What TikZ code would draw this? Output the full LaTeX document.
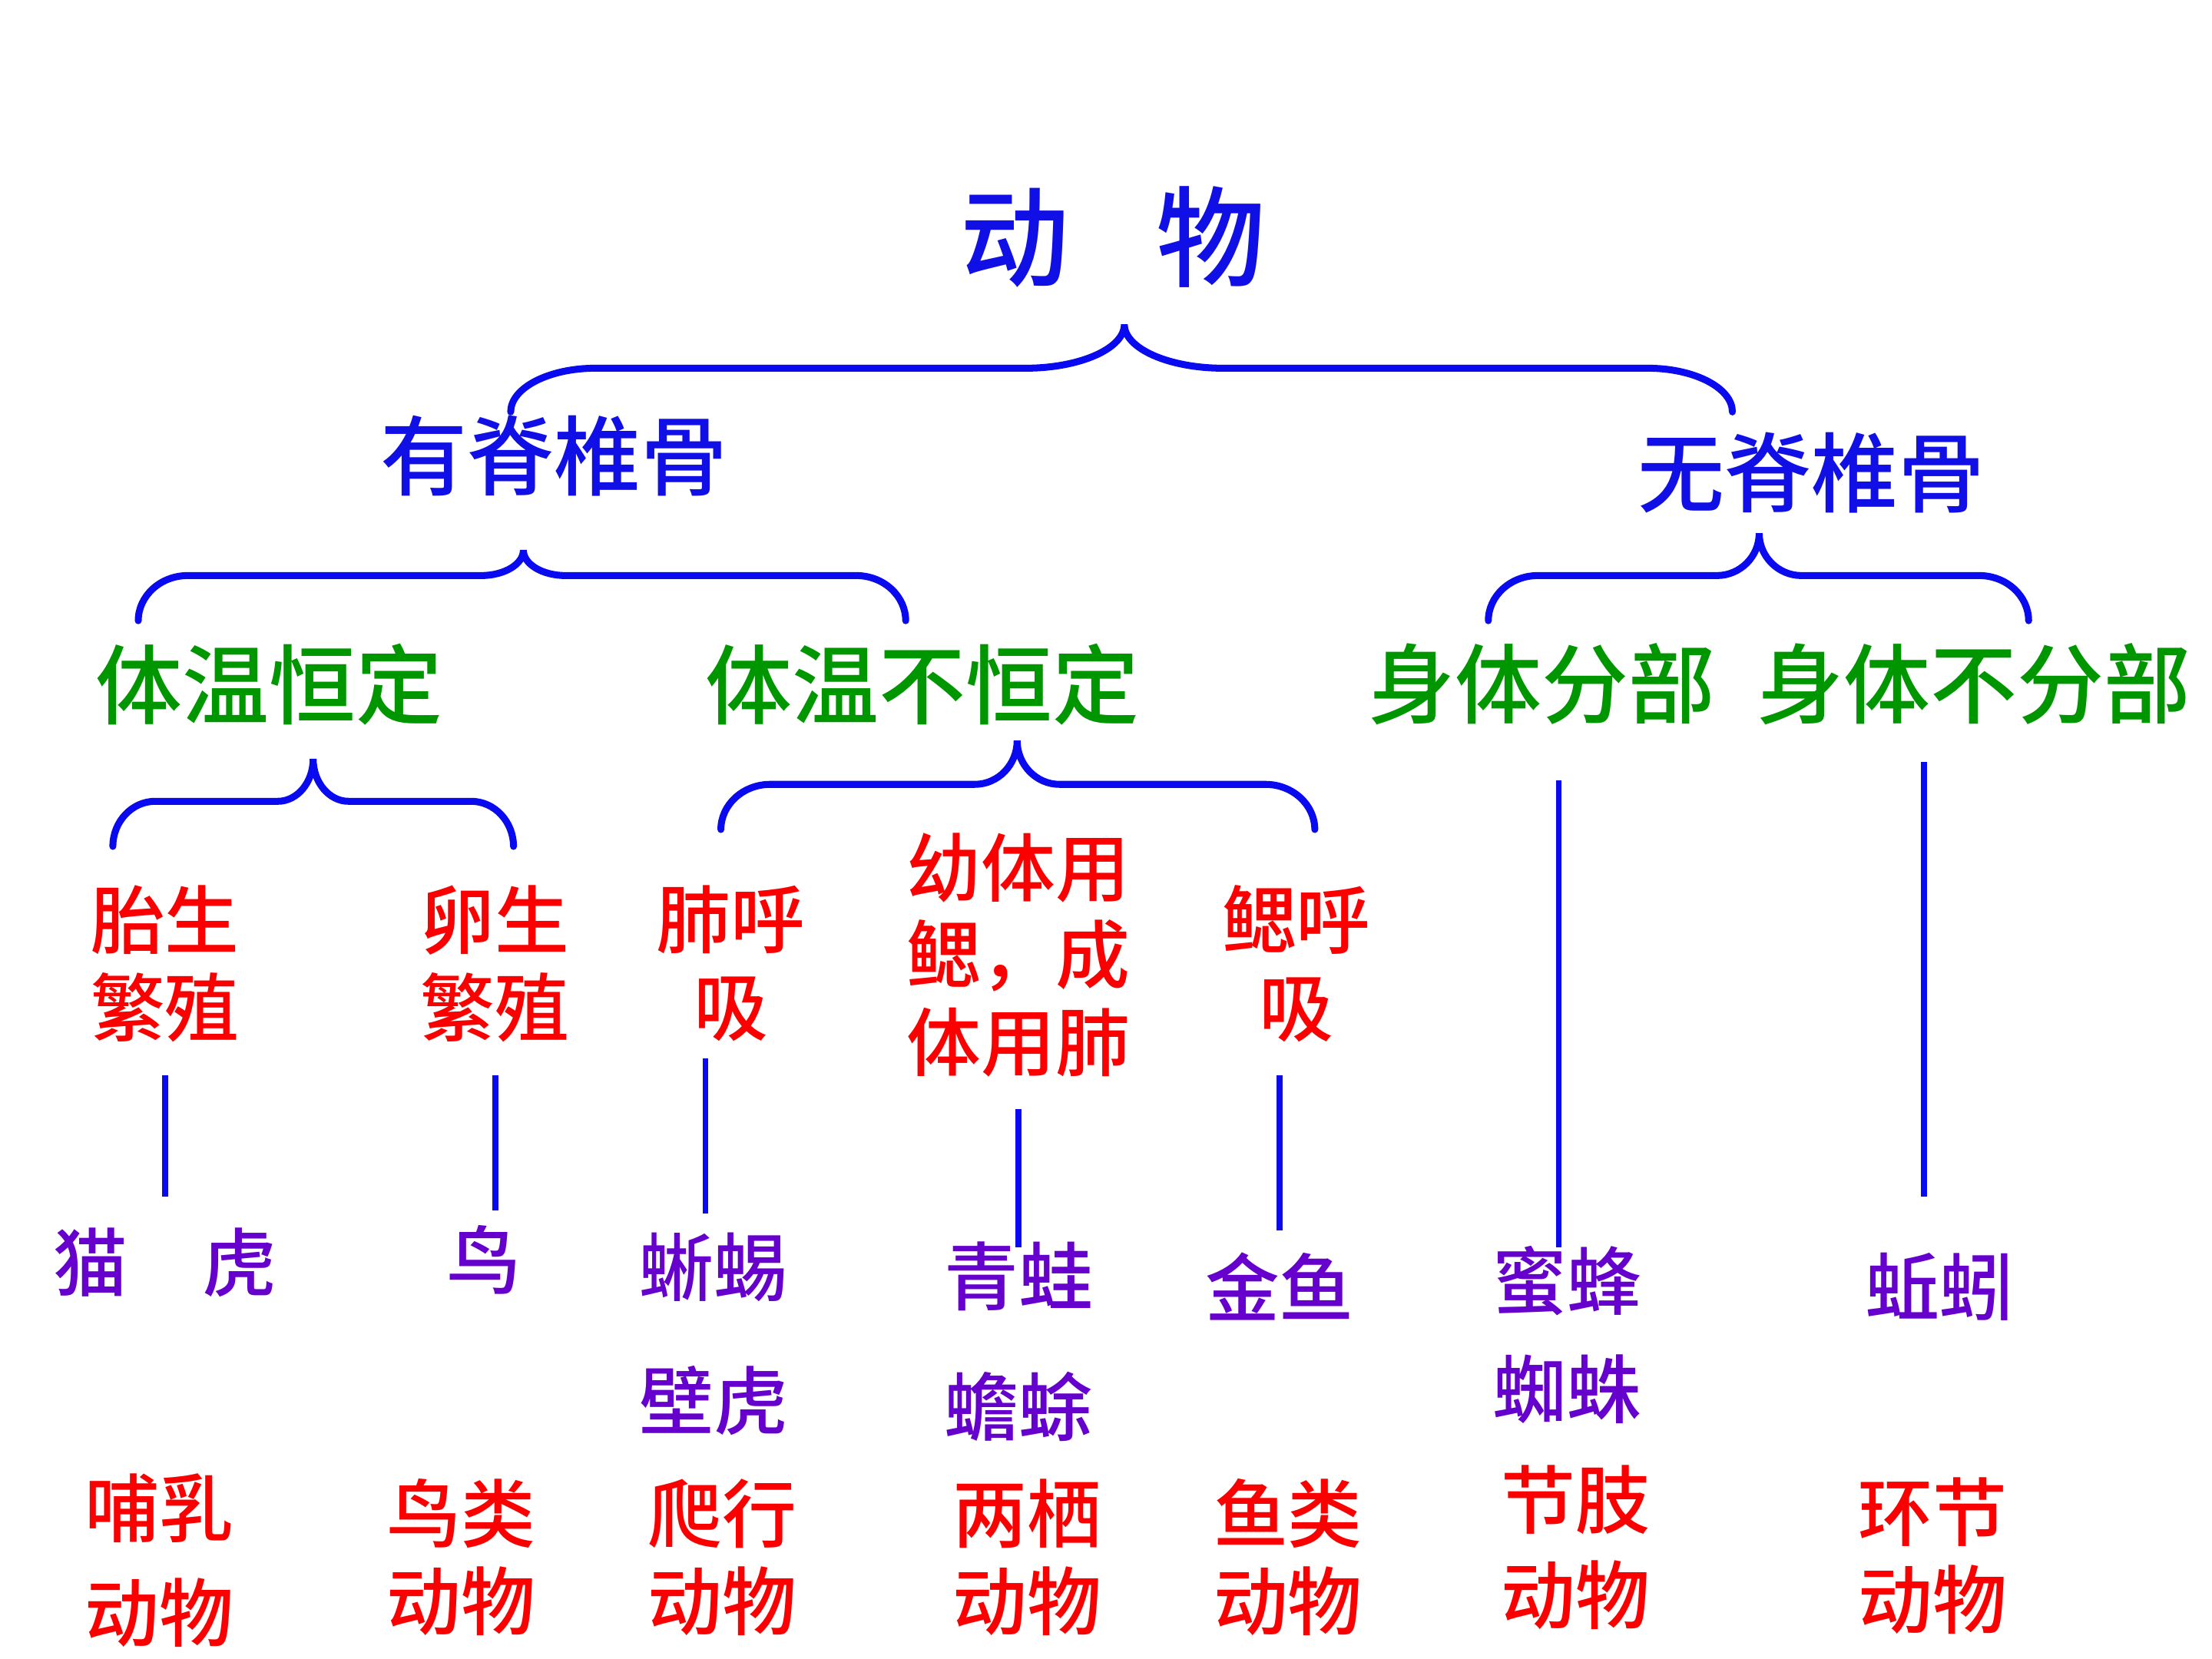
\documentclass[tikz,border=0pt]{standalone}
\usepackage{fontspec}
\newfontfamily\cjk{Noto Sans CJK SC Medium}
\definecolor{lineblue}{RGB}{10,10,240}
\definecolor{titleblue}{RGB}{15,15,230}
\definecolor{grn}{RGB}{0,150,0}
\definecolor{redt}{RGB}{250,0,0}
\definecolor{purp}{RGB}{102,0,204}
% #1 left x, #2 right x, #3 tip x, #4 horizontal y, #5 tip y, #6 end y, #7 end curve width, #8 tip curve width
\newcommand\cbrace[8]{%
  \draw[brace] (#1,#6) .. controls (#1,{#6-0.55*(#6-#4)}) and ({#1+0.45*#7},#4) .. ({#1+#7},#4)
    -- ({#3-#8},#4) .. controls ({#3-0.45*#8},#4) and (#3,{#5+0.55*(#4-#5)}) .. (#3,#5)
    .. controls (#3,{#5+0.55*(#4-#5)}) and ({#3+0.45*#8},#4) .. ({#3+#8},#4)
    -- ({#2-#7},#4) .. controls ({#2-0.45*#7},#4) and (#2,{#6-0.55*(#6-#4)}) .. (#2,#6);}
\begin{document}
\begin{tikzpicture}[x=0.02cm,y=-0.02cm,
  brace/.style={draw=lineblue, line width=2.8pt, line cap=round},
  vline/.style={draw=lineblue, line width=2.4pt},
  titlet/.style={text=titleblue, font=\cjk\fontsize{44}{52}\selectfont, inner sep=0pt},
  lvltwo/.style={text=titleblue, font=\cjk\fontsize{35}{42}\selectfont, inner sep=0pt},
  lvlthree/.style={text=grn, font=\cjk\fontsize{35}{42}\selectfont, inner sep=0pt},
  trait/.style={text=redt, font=\cjk\fontsize{30}{35.3}\selectfont, align=center, inner sep=0pt},
  animal/.style={text=purp, font=\cjk\fontsize{30}{35.3}\selectfont, inner sep=0pt},
  group/.style={text=redt, font=\cjk\fontsize{30}{35.3}\selectfont, align=center, inner sep=0pt}]
\useasboundingbox[fill=white] (0,0) rectangle (1568,1176);

% titles
\node[titlet] (dongwu) at (789,168) {动\hspace{0.8em}物};
\node[lvltwo] (you) at (393,323) {有脊椎骨};
\node[lvltwo] (wu) at (1284,335) {无脊椎骨};
\node[lvlthree] (hengding) at (191,485) {体温恒定};
\node[lvlthree] (buheng) at (654,485) {体温不恒定};
\node[lvlthree] (fenbu) at (1093,485) {身体分部};
\node[lvlthree] (bufen) at (1399,485) {身体不分部};

% braces
\cbrace{362}{1228}{797}{261}{230}{292}{60}{70}
\cbrace{98}{642}{371}{408}{390}{440}{35}{30}
\cbrace{1055}{1438}{1247}{408}{378}{440}{35}{30}
\cbrace{80}{364}{222}{568}{538}{600}{30}{25}
\cbrace{511}{932}{721}{556}{525}{588}{35}{30}

% traits
\node[trait] (taisheng) at (117,683) {胎生\\繁殖};
\node[trait] (luansheng) at (351,683) {卵生\\繁殖};
\node[trait] (feihuxi) at (518,683) {肺呼\\吸};
\node[trait] (youti) at (722,677) {幼体用\\鳃，成\\体用肺};
\node[trait] (saihuxi) at (919,683) {鳃呼\\吸};

% animals
\node[animal] (maohu) at (117,895) {猫\hspace{1em}虎};
\node[animal] (niao) at (343,893) {鸟};
\node[animal] (xiyi) at (506,898) {蜥蜴};
\node[animal] (bihu) at (506,993) {壁虎};
\node[animal] (qingwa) at (722,905) {青蛙};
\node[animal] (chanchu) at (722,997) {蟾蜍};
\node[animal] (jinyu) at (907,912) {金鱼};
\node[animal] (mifeng) at (1111,908) {蜜蜂};
\node[animal] (zhizhu) at (1111,985) {蜘蛛};
\node[animal] (qiuyin) at (1375,912) {蚯蚓};

% groups
\node[group] (buru) at (113,1106) {哺乳\\[7pt]动物};
\node[group] (niaolei) at (327,1104) {鸟类\\动物};
\node[group] (paxing) at (512,1104) {爬行\\动物};
\node[group] (liangqi) at (728,1104) {两栖\\动物};
\node[group] (yulei) at (913,1104) {鱼类\\动物};
\node[group] (jiezhi) at (1117,1097) {节肢\\[3pt]动物};
\node[group] (huanjie) at (1370,1103) {环节\\动物};

% vertical connectors
\coordinate (a1) at (117,762); \coordinate (a2) at (117,848);
\coordinate (b1) at (351,762); \coordinate (b2) at (351,858);
\coordinate (c1) at (500,750); \coordinate (c2) at (500,860);
\coordinate (d1) at (722,786); \coordinate (d2) at (722,884);
\coordinate (e1) at (907,762); \coordinate (e2) at (907,872);
\coordinate (f1) at (1105,553); \coordinate (f2) at (1105,884);
\coordinate (g1) at (1364,540); \coordinate (g2) at (1364,848);
\draw[vline] (a1) -- (a2);
\draw[vline] (b1) -- (b2);
\draw[vline] (c1) -- (c2);
\draw[vline] (d1) -- (d2);
\draw[vline] (e1) -- (e2);
\draw[vline] (f1) -- (f2);
\draw[vline] (g1) -- (g2);
\end{tikzpicture}
\end{document}
